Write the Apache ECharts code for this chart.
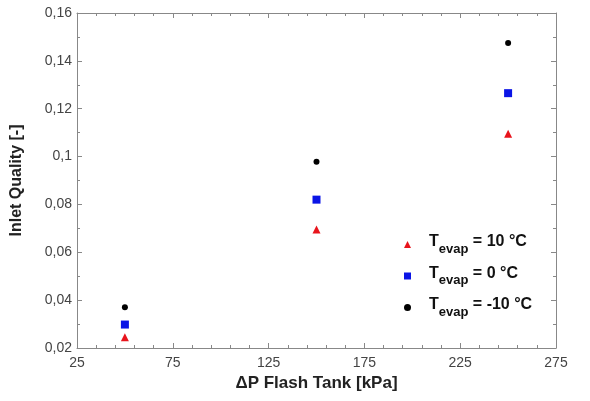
<!DOCTYPE html>
<html><head><meta charset="utf-8">
<script src="https://cdn.jsdelivr.net/npm/echarts@6/dist/echarts.min.js"></script>
<style>html,body{margin:0;padding:0;background:#fff}#c{width:590px;height:401px}</style>
</head><body><div id="c"></div>
<script>
const xValues = [50, 150, 250];
const seriesNames = ['T_evap = 10 °C', 'T_evap = 0 °C', 'T_evap = -10 °C'];
const legendTemps = ['10 °C', '0 °C', '-10 °C'];
const q10 = [0.0245, 0.0695, 0.1095];
const q0 = [0.0298, 0.0820, 0.1265];
const qm10 = [0.0370, 0.0978, 0.1475];
const xTicks = [25, 75, 125, 175, 225, 275];
const yTicks = [0.02, 0.04, 0.06, 0.08, 0.1, 0.12, 0.14, 0.16];

const chart = echarts.init(document.getElementById('c'));
const fmtY = v => String(Math.round(v * 100) / 100).replace('.', ',');
const axisCommon = {
  axisLine: { show: true, lineStyle: { color: '#888', width: 1 } },
  axisTick: { show: true, inside: true, length: 5, lineStyle: { color: '#888' } },
  splitLine: { show: false }
};
const mk = (arr) => xValues.map((x, i) => [x, arr[i]]);
const legendMap = {};
seriesNames.forEach((n, i) => legendMap[n] = legendTemps[i]);

chart.setOption({
  animation: false,
  grid: { left: 77, right: 34, top: 13, bottom: 53 },
  xAxis: [
    Object.assign({}, axisCommon, {
      type: 'value', min: 25, max: 275, interval: 50, position: 'bottom',
      minorTick: { show: true, splitNumber: 5, length: 3, lineStyle: { color: '#888' } },
      axisLabel: { color: '#444', fontFamily: 'Liberation Sans', fontSize: 14, margin: 8 },
      name: 'ΔP Flash Tank [kPa]', nameLocation: 'middle', nameGap: 27,
      nameTextStyle: { color: '#222', fontFamily: 'Liberation Sans', fontWeight: 'bold', fontSize: 17 }
    }),
    Object.assign({}, axisCommon, {
      type: 'value', min: 25, max: 275, interval: 50, position: 'top',
      minorTick: { show: true, splitNumber: 5, length: 3, lineStyle: { color: '#888' } },
      axisLabel: { show: false }
    })
  ],
  yAxis: [
    Object.assign({}, axisCommon, {
      type: 'value', min: 0.02, max: 0.16, interval: 0.02, position: 'left',
      minorTick: { show: true, splitNumber: 2, length: 3, lineStyle: { color: '#888' } },
      axisLabel: { color: '#444', fontFamily: 'Liberation Sans', fontSize: 14, margin: 5, formatter: fmtY },
      name: 'Inlet Quality [-]', nameLocation: 'middle', nameGap: 52, nameRotate: 90,
      nameTextStyle: { color: '#222', fontFamily: 'Liberation Sans', fontWeight: 'bold', fontSize: 16 }
    }),
    Object.assign({}, axisCommon, {
      type: 'value', min: 0.02, max: 0.16, interval: 0.02, position: 'right',
      minorTick: { show: true, splitNumber: 2, length: 3, lineStyle: { color: '#888' } },
      axisLabel: { show: false }
    })
  ],
  legend: {
    orient: 'vertical', left: 399, top: 229, itemGap: 10,
    itemWidth: 7, itemHeight: 7,
    data: [
      { name: seriesNames[0], icon: 'triangle' },
      { name: seriesNames[1], icon: 'rect' },
      { name: seriesNames[2], icon: 'circle' }
    ],
    formatter: n => '{T|T}{s|evap}{t| = ' + legendMap[n] + '}',
    textStyle: {
      rich: {
        T: { fontFamily: 'Liberation Sans', fontWeight: 'bold', fontSize: 16, color: '#111', padding: [0, 0, 5, 13] },
        t: { fontFamily: 'Liberation Sans', fontWeight: 'bold', fontSize: 16, color: '#111', padding: [0, 0, 5, 0] },
        s: { fontFamily: 'Liberation Sans', fontWeight: 'bold', fontSize: 13, color: '#111', padding: [9, 0, 0, 0] }
      }
    }
  },
  series: [
    { name: seriesNames[0], type: 'scatter', data: mk(q10), symbol: 'triangle', symbolSize: 8, itemStyle: { color: '#e8141c', opacity: 1 } },
    { name: seriesNames[1], type: 'scatter', data: mk(q0), symbol: 'rect', symbolSize: 8, itemStyle: { color: '#0a14e6', opacity: 1 } },
    { name: seriesNames[2], type: 'scatter', data: mk(qm10), symbol: 'circle', symbolSize: 6, itemStyle: { color: '#000', opacity: 1 } }
  ]
});
</script></body></html>
